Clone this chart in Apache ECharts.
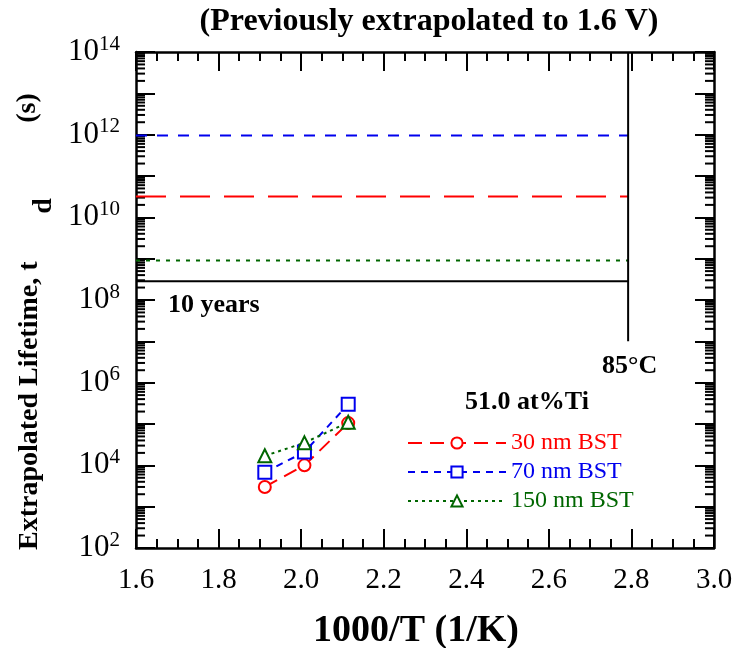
<!DOCTYPE html>
<html><head><meta charset="utf-8">
<script src="https://cdn.jsdelivr.net/npm/echarts@6/dist/echarts.min.js"></script>
<style>html,body{margin:0;padding:0;background:#fff}#c{width:734px;height:648px}</style>
</head><body><div id="c"></div>
<script>
// ---- data ----
const invT = [1.912, 2.008, 2.114];            // 1000/T (1/K)
const life30 = [3.0e3, 1.0e4, 1.05e5];         // 30 nm BST lifetime (s)
const life70 = [6.8e3, 2.1e4, 3.0e5];          // 70 nm BST
const life150 = [1.7e4, 3.5e4, 1.1e5];         // 150 nm BST
const limitX = [1.6, 2.792];                   // extrapolated-to-1.6 V lines span
const limit30 = 3.2e10;
const limit70 = 9.5e11;
const limit150 = 9.0e8;
const tenYears = 2.85e8;
const temp85X = 2.792;                         // 85 °C
const temp85Y = [1e7, 1e14];
const seriesNames = ['30 nm BST', '70 nm BST', '150 nm BST'];
const seriesColors = ['#ff0000', '#0000ee', '#006600'];
const xMin = 1.6, xMax = 3.0, xStep = 0.2;
const yMinExp = 2, yMaxExp = 14;               // log10 axis range: 1e2 .. 1e14

const F = 'Liberation Serif';
const L = Math.log10;
const chart = echarts.init(document.getElementById('c'));
const zip = (xs, ys) => xs.map((x, i) => [x, L(ys[i])]);
const hline = (v) => limitX.map(x => [x, L(v)]);

// log minor tick positions (2..9 x 10^n)
const minorPos = [];
for (let n = yMinExp; n < yMaxExp; n++) for (let k = 2; k <= 9; k++) minorPos.push(n + L(k));

const axisLineStyle = { color: '#000', width: 2.5 };
const tickStyle = { color: '#000', width: 2 };
const xAxisBase = {
  type: 'value', min: xMin, max: xMax, interval: xStep,
  axisLine: { show: true, onZero: false, lineStyle: axisLineStyle },
  axisTick: { show: true, inside: true, length: 19, lineStyle: tickStyle },
  minorTick: { show: true, splitNumber: 4, length: 9, lineStyle: tickStyle },
  splitLine: { show: false }, minorSplitLine: { show: false }
};
const yAxisBase = {
  type: 'value', min: yMinExp, max: yMaxExp, interval: 1,
  axisLine: { show: true, onZero: false, lineStyle: axisLineStyle },
  axisTick: { show: true, inside: true, length: 19, lineStyle: tickStyle },
  splitLine: { show: false }
};

const dataSeries = [life30, life70, life150].map((ys, i) => ({
  name: seriesNames[i], type: 'line', xAxisIndex: 0, yAxisIndex: 0,
  data: zip(invT, ys),
  symbol: ['circle', 'rect', 'triangle'][i], symbolSize: [12, 13, 13][i],
  lineStyle: { color: seriesColors[i], width: 2, type: [[14, 8], [7, 6], [3, 4]][i] },
  itemStyle: { color: '#fff', borderColor: seriesColors[i], borderWidth: 2 },
  z: 5
}));

const limitSeries = [
  { name: 'lim30', data: hline(limit30), color: seriesColors[0], type: [30, 14] },
  { name: 'lim70', data: hline(limit70), color: seriesColors[1], type: [11, 10] },
  { name: 'lim150', data: hline(limit150), color: seriesColors[2], type: [4, 6] },
  { name: 'ten', data: hline(tenYears), color: '#000', type: 'solid' },
  { name: 't85', data: temp85Y.map(y => [temp85X, L(y)]), color: '#000', type: 'solid' }
].map(s => ({
  name: s.name, type: 'line', data: s.data, symbol: 'none', silent: true,
  lineStyle: { color: s.color, width: 2, type: s.type }, z: 3
}));

const minorTickSeries = {
  name: 'logMinorTicks', type: 'custom', silent: true, clip: false, z: 2,
  data: minorPos.map(p => [xMin, p]),
  renderItem: (params, api) => {
    const v = api.value(1);
    const l = api.coord([xMin, v]);
    const r = api.coord([xMax, v]);
    return { type: 'group', children: [
      { type: 'line', shape: { x1: l[0], y1: l[1], x2: l[0] + 9, y2: l[1] }, style: { stroke: '#000', lineWidth: 2 } },
      { type: 'line', shape: { x1: r[0] - 9, y1: r[1], x2: r[0], y2: r[1] }, style: { stroke: '#000', lineWidth: 2 } }
    ] };
  }
};

chart.setOption({
  backgroundColor: '#fff',
  animation: false,
  title: {
    text: '(Previously extrapolated to 1.6 V)', left: 424, top: 1, textAlign: 'center',
    textStyle: { fontFamily: F, fontWeight: 'bold', fontSize: 32, color: '#000' }
  },
  grid: { left: 136, right: 20, top: 52, bottom: 100, containLabel: false, outerBoundsMode: 'none' },
  xAxis: [
    Object.assign({}, xAxisBase, {
      position: 'bottom',
      axisLabel: { show: true, margin: 18, fontFamily: F, fontSize: 29, color: '#000',
        formatter: v => v.toFixed(1) },
      name: '1000/T (1/K)', nameLocation: 'middle', nameGap: 64,
      nameTextStyle: { fontFamily: F, fontWeight: 'bold', fontSize: 38, color: '#000', padding: [0, 18, 0, 0] }
    }),
    Object.assign({}, xAxisBase, { position: 'top', axisLabel: { show: false } })
  ],
  yAxis: [
    Object.assign({}, yAxisBase, {
      position: 'left',
      axisLabel: {
        show: true, margin: 16, color: '#000',
        formatter: v => (Math.round(v) % 2 === 0 ? '{b|10}{s|' + Math.round(v) + '}' : ''),
        rich: { b: { fontFamily: F, fontSize: 31, color: '#000' },
                s: { fontFamily: F, fontSize: 21, color: '#000', padding: [0, 0, 16, 0] } }
      }
    }),
    Object.assign({}, yAxisBase, { position: 'right', axisLabel: { show: false } })
  ],
  legend: {
    data: seriesNames.map((n, i) => ({ name: n, textStyle: { color: seriesColors[i] } })),
    orient: 'vertical', left: 402, top: 426, itemWidth: 98, itemHeight: 14, itemGap: 5,
    textStyle: { fontFamily: F, fontSize: 24 }
  },
  graphic: [
    { type: 'text', x: 30, y: 550, rotation: Math.PI / 2,
      style: { text: 'Extrapolated Lifetime, t', font: 'bold 28px "Liberation Serif"', fill: '#000', align: 'left', verticalAlign: 'middle' } },
    { type: 'text', x: 44, y: 206, rotation: Math.PI / 2,
      style: { text: 'd', font: 'bold 28px "Liberation Serif"', fill: '#000', align: 'center', verticalAlign: 'middle' } },
    { type: 'text', x: 28, y: 108, rotation: Math.PI / 2,
      style: { text: '(s)', font: 'bold 28px "Liberation Serif"', fill: '#000', align: 'center', verticalAlign: 'middle' } },
    { type: 'text', x: 168, y: 305,
      style: { text: '10 years', font: 'bold 26px "Liberation Serif"', fill: '#000', align: 'left', verticalAlign: 'middle' } },
    { type: 'text', x: 602, y: 366,
      style: { text: '85°C', font: 'bold 26px "Liberation Serif"', fill: '#000', align: 'left', verticalAlign: 'middle' } },
    { type: 'text', x: 527, y: 402,
      style: { text: '51.0 at%Ti', font: 'bold 26px "Liberation Serif"', fill: '#000', align: 'center', verticalAlign: 'middle' } }
  ],
  series: [minorTickSeries].concat(limitSeries, dataSeries)
});
</script></body></html>
